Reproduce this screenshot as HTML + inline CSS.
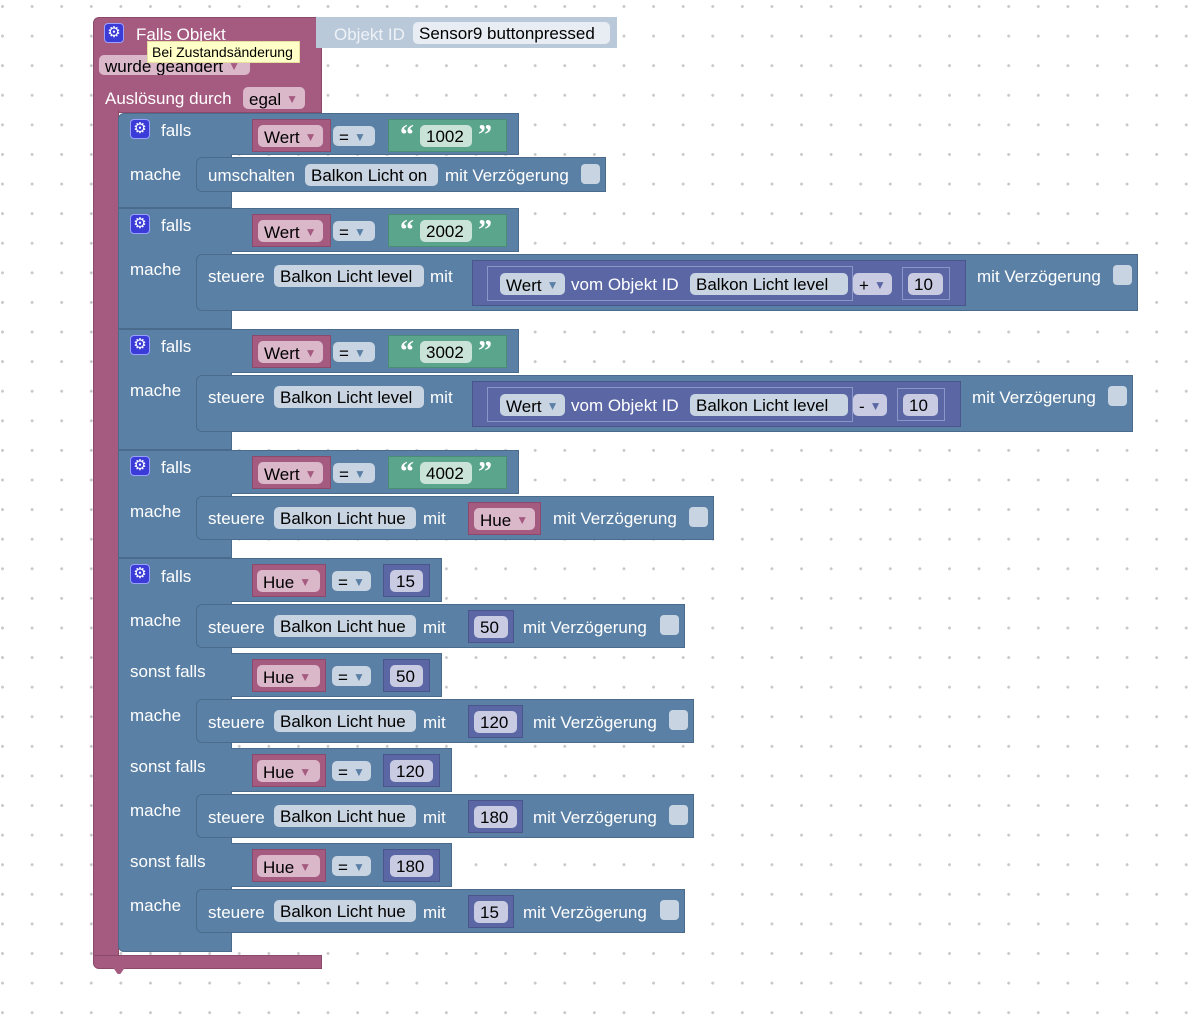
<!DOCTYPE html>
<html><head><meta charset="utf-8"><style>
html,body{margin:0;padding:0}
body{width:1200px;height:1025px;position:relative;overflow:hidden;background-color:#fff;
background-image:radial-gradient(circle at 1.5px 1.5px,#c8c8c8 1.3px,transparent 1.6px);
background-size:29.6px 29.6px;background-position:1px 5px;font-family:"Liberation Sans",sans-serif}
div{position:absolute;box-sizing:border-box}
.pk{background:#a55b80;border:1px solid #8b4a6b}
.bl{background:#5b80a5;border:1px solid #4a6b8c}
.gr{background:#5ba58c;border:1px solid #4a8c75}
.pu{background:#5b67a5;border:1px solid #4a558c}
.pu2{background:#5b67a5;border:1px solid #8c95c8}
.t{color:#fff;font-size:17px;line-height:20px;white-space:nowrap;margin-top:1px}
.f{border-radius:5px;color:#000;font-size:17px;line-height:24px;height:22px;white-space:nowrap;padding-left:6px}
.fb{background:#c8d4e1}.fp{background:#dbb7ca}.fg{background:#c9e3d9}.fu{background:#c9cbe3}
.ar{font-size:12px;color:#5b80a5;vertical-align:2px;margin-left:5px}
.fp .ar{color:#a55b80}
.cb{background:#c8d4e1;border-radius:4px;width:19px;height:20px}
.g{background:#3b3bd8;border:1px solid #9aa0ff;border-radius:4px;width:20px;height:20px;color:#fff;font-size:15px;line-height:18px;text-align:center}
.q{color:#fff;font-size:28px;font-weight:bold;line-height:28px;font-family:"Liberation Serif",serif}
</style></head><body>

<!-- outer pink -->
<div class="pk" style="left:93px;top:17px;width:229px;height:96px;border-radius:6px 6px 0 0"></div>
<div class="pk" style="left:93px;top:110px;width:26px;height:850px;border-top:0;border-bottom:0"></div>
<div class="pk" style="left:93px;top:955px;width:229px;height:14px;border-radius:0 0 0 6px"></div>
<div style="left:112px;top:966px;width:14px;height:8px;background:#a55b80;clip-path:polygon(0 0,100% 0,60% 100%,40% 100%)"></div>

<div style="left:316px;top:17px;width:301px;height:31px;background:#b9c9da"></div>
<div class="t" style="left:334px;top:24px;color:#eef2f7">Objekt ID</div>
<div class="f" style="left:413px;top:22px;width:197px;background:#e8edf3">Sensor9 buttonpressed</div>

<div class="g" style="left:104px;top:23px">⚙</div>
<div class="t" style="left:136px;top:24px">Falls Objekt</div>
<div class="f fp" style="left:99px;top:55px;width:151px;height:20px;line-height:22px;overflow:hidden">wurde geändert<span class="ar">▼</span></div>
<div style="left:147px;top:41px;width:153px;height:22px;background:#ffffc7;border:1px solid #e6e0a0;font-size:14px;line-height:20px;padding-left:4px;color:#000;white-space:nowrap">Bei Zustandsänderung</div>
<div class="t" style="left:105px;top:88px">Auslösung durch</div>
<div class="f fp" style="left:243px;top:87px;width:62px">egal<span class="ar">▼</span></div>

<!-- Block 1 -->
<div class="bl" style="left:118px;top:113px;width:114px;height:95px;border-radius:6px 0 0 0"></div>
<div class="bl" style="left:231px;top:113px;width:288px;height:42px;border-left:0"></div>
<div class="g" style="left:130px;top:119px">⚙</div>
<div class="t" style="left:161px;top:120px">falls</div>
<div class="t" style="left:130px;top:164px">mache</div>
<div class="pk" style="left:252px;top:119px;width:79px;height:33px"></div>
<div class="f fp" style="left:258px;top:125px;width:65px">Wert<span class="ar">▼</span></div>
<div class="f fb" style="left:333px;top:126px;width:42px;height:20px;line-height:22px">=<span class="ar">▼</span></div>
<div class="gr" style="left:388px;top:119px;width:119px;height:33px"></div>
<div class="q" style="left:400px;top:122px">“</div>
<div class="f fg" style="left:420px;top:125px;width:52px">1002</div>
<div class="q" style="left:478px;top:122px">”</div>
<div class="bl" style="left:196px;top:157px;width:410px;height:35px;border-radius:6px 0 0 6px"></div>
<div class="t" style="left:208px;top:165px">umschalten</div>
<div class="f fb" style="left:305px;top:164px;width:133px">Balkon Licht on</div>
<div class="t" style="left:445px;top:165px">mit Verzögerung</div>
<div class="cb" style="left:581px;top:164px"></div>

<!-- Block 2 -->
<div class="bl" style="left:118px;top:208px;width:114px;height:121px"></div>
<div class="bl" style="left:231px;top:208px;width:288px;height:44px;border-left:0"></div>
<div class="g" style="left:130px;top:214px">⚙</div>
<div class="t" style="left:161px;top:215px">falls</div>
<div class="t" style="left:130px;top:259px">mache</div>
<div class="pk" style="left:252px;top:214px;width:79px;height:33px"></div>
<div class="f fp" style="left:258px;top:220px;width:65px">Wert<span class="ar">▼</span></div>
<div class="f fb" style="left:333px;top:221px;width:42px;height:20px;line-height:22px">=<span class="ar">▼</span></div>
<div class="gr" style="left:388px;top:214px;width:119px;height:33px"></div>
<div class="q" style="left:400px;top:217px">“</div>
<div class="f fg" style="left:420px;top:220px;width:52px">2002</div>
<div class="q" style="left:478px;top:217px">”</div>
<div class="bl" style="left:196px;top:254px;width:942px;height:57px;border-radius:6px 0 0 6px"></div>
<div class="t" style="left:208px;top:266px">steuere</div>
<div class="f fb" style="left:274px;top:265px;width:150px">Balkon Licht level</div>
<div class="t" style="left:430px;top:266px">mit</div>
<div class="pu" style="left:472px;top:260px;width:494px;height:46px"></div>
<div class="pu2" style="left:487px;top:266px;width:366px;height:35px"></div>
<div class="f fb" style="left:500px;top:273px;width:65px">Wert<span class="ar">▼</span></div>
<div class="t" style="left:571px;top:274px">vom Objekt ID</div>
<div class="f fb" style="left:690px;top:273px;width:158px">Balkon Licht level</div>
<div class="f fu" style="left:853px;top:273px;width:39px">+<span class="ar" style="color:#5b67a5">▼</span></div>
<div class="pu2" style="left:902px;top:267px;width:48px;height:33px"></div>
<div class="f fu" style="left:908px;top:273px;width:35px">10</div>
<div class="t" style="left:977px;top:266px">mit Verzögerung</div>
<div class="cb" style="left:1113px;top:265px"></div>

<!-- Block 3 -->
<div class="bl" style="left:118px;top:329px;width:114px;height:121px"></div>
<div class="bl" style="left:231px;top:329px;width:288px;height:44px;border-left:0"></div>
<div class="g" style="left:130px;top:335px">⚙</div>
<div class="t" style="left:161px;top:336px">falls</div>
<div class="t" style="left:130px;top:380px">mache</div>
<div class="pk" style="left:252px;top:335px;width:79px;height:33px"></div>
<div class="f fp" style="left:258px;top:341px;width:65px">Wert<span class="ar">▼</span></div>
<div class="f fb" style="left:333px;top:342px;width:42px;height:20px;line-height:22px">=<span class="ar">▼</span></div>
<div class="gr" style="left:388px;top:335px;width:119px;height:33px"></div>
<div class="q" style="left:400px;top:338px">“</div>
<div class="f fg" style="left:420px;top:341px;width:52px">3002</div>
<div class="q" style="left:478px;top:338px">”</div>
<div class="bl" style="left:196px;top:375px;width:937px;height:57px;border-radius:6px 0 0 6px"></div>
<div class="t" style="left:208px;top:387px">steuere</div>
<div class="f fb" style="left:274px;top:386px;width:150px">Balkon Licht level</div>
<div class="t" style="left:430px;top:387px">mit</div>
<div class="pu" style="left:472px;top:381px;width:489px;height:46px"></div>
<div class="pu2" style="left:487px;top:387px;width:366px;height:35px"></div>
<div class="f fb" style="left:500px;top:394px;width:65px">Wert<span class="ar">▼</span></div>
<div class="t" style="left:571px;top:395px">vom Objekt ID</div>
<div class="f fb" style="left:690px;top:394px;width:158px">Balkon Licht level</div>
<div class="f fu" style="left:853px;top:394px;width:34px">-<span class="ar" style="color:#5b67a5">▼</span></div>
<div class="pu2" style="left:897px;top:388px;width:48px;height:33px"></div>
<div class="f fu" style="left:903px;top:394px;width:35px">10</div>
<div class="t" style="left:972px;top:387px">mit Verzögerung</div>
<div class="cb" style="left:1108px;top:386px"></div>

<!-- Block 4 -->
<div class="bl" style="left:118px;top:450px;width:114px;height:108px"></div>
<div class="bl" style="left:231px;top:450px;width:288px;height:44px;border-left:0"></div>
<div class="g" style="left:130px;top:456px">⚙</div>
<div class="t" style="left:161px;top:457px">falls</div>
<div class="t" style="left:130px;top:501px">mache</div>
<div class="pk" style="left:252px;top:456px;width:79px;height:33px"></div>
<div class="f fp" style="left:258px;top:462px;width:65px">Wert<span class="ar">▼</span></div>
<div class="f fb" style="left:333px;top:463px;width:42px;height:20px;line-height:22px">=<span class="ar">▼</span></div>
<div class="gr" style="left:388px;top:456px;width:119px;height:33px"></div>
<div class="q" style="left:400px;top:459px">“</div>
<div class="f fg" style="left:420px;top:462px;width:52px">4002</div>
<div class="q" style="left:478px;top:459px">”</div>
<div class="bl" style="left:196px;top:496px;width:518px;height:44px;border-radius:6px 0 0 6px"></div>
<div class="t" style="left:208px;top:508px">steuere</div>
<div class="f fb" style="left:274px;top:507px;width:142px">Balkon Licht hue</div>
<div class="t" style="left:423px;top:508px">mit</div>
<div class="pk" style="left:468px;top:502px;width:73px;height:33px"></div>
<div class="f fp" style="left:474px;top:508px;width:61px">Hue<span class="ar">▼</span></div>
<div class="t" style="left:553px;top:508px">mit Verzögerung</div>
<div class="cb" style="left:689px;top:507px"></div>

<!-- Block 5 -->
<div class="bl" style="left:118px;top:558px;width:114px;height:394px;border-radius:0 0 0 6px"></div>
<div class="g" style="left:130px;top:564px">⚙</div>
<div class="t" style="left:161px;top:566px">falls</div>
<div class="t" style="left:130px;top:610px">mache</div>
<div class="t" style="left:130px;top:661px">sonst falls</div>
<div class="t" style="left:130px;top:705px">mache</div>
<div class="t" style="left:130px;top:756px">sonst falls</div>
<div class="t" style="left:130px;top:800px">mache</div>
<div class="t" style="left:130px;top:851px">sonst falls</div>
<div class="t" style="left:130px;top:895px">mache</div>

<!-- cond rows -->
<div class="bl" style="left:231px;top:558px;width:211px;height:44px;border-left:0"></div>
<div class="pk" style="left:252px;top:564px;width:74px;height:33px"></div>
<div class="f fp" style="left:257px;top:570px;width:63px">Hue<span class="ar">▼</span></div>
<div class="f fb" style="left:332px;top:571px;width:39px;height:20px;line-height:22px">=<span class="ar">▼</span></div>
<div class="pu" style="left:383px;top:564px;width:47px;height:33px"></div>
<div class="f fu" style="left:390px;top:570px;width:33px">15</div>

<div class="bl" style="left:231px;top:653px;width:211px;height:44px;border-left:0"></div>
<div class="pk" style="left:252px;top:659px;width:74px;height:33px"></div>
<div class="f fp" style="left:257px;top:665px;width:63px">Hue<span class="ar">▼</span></div>
<div class="f fb" style="left:332px;top:666px;width:39px;height:20px;line-height:22px">=<span class="ar">▼</span></div>
<div class="pu" style="left:383px;top:659px;width:47px;height:33px"></div>
<div class="f fu" style="left:390px;top:665px;width:33px">50</div>

<div class="bl" style="left:231px;top:748px;width:221px;height:44px;border-left:0"></div>
<div class="pk" style="left:252px;top:754px;width:74px;height:33px"></div>
<div class="f fp" style="left:257px;top:760px;width:63px">Hue<span class="ar">▼</span></div>
<div class="f fb" style="left:332px;top:761px;width:39px;height:20px;line-height:22px">=<span class="ar">▼</span></div>
<div class="pu" style="left:383px;top:754px;width:57px;height:33px"></div>
<div class="f fu" style="left:390px;top:760px;width:43px">120</div>

<div class="bl" style="left:231px;top:843px;width:221px;height:44px;border-left:0"></div>
<div class="pk" style="left:252px;top:849px;width:74px;height:33px"></div>
<div class="f fp" style="left:257px;top:855px;width:63px">Hue<span class="ar">▼</span></div>
<div class="f fb" style="left:332px;top:856px;width:39px;height:20px;line-height:22px">=<span class="ar">▼</span></div>
<div class="pu" style="left:383px;top:849px;width:57px;height:33px"></div>
<div class="f fu" style="left:390px;top:855px;width:43px">180</div>

<!-- statements -->
<div class="bl" style="left:196px;top:604px;width:489px;height:44px;border-radius:6px 0 0 6px"></div>
<div class="t" style="left:208px;top:617px">steuere</div>
<div class="f fb" style="left:274px;top:615px;width:142px">Balkon Licht hue</div>
<div class="t" style="left:423px;top:617px">mit</div>
<div class="pu" style="left:468px;top:610px;width:46px;height:33px"></div>
<div class="f fu" style="left:474px;top:616px;width:34px">50</div>
<div class="t" style="left:523px;top:617px">mit Verzögerung</div>
<div class="cb" style="left:660px;top:615px"></div>

<div class="bl" style="left:196px;top:699px;width:498px;height:44px;border-radius:6px 0 0 6px"></div>
<div class="t" style="left:208px;top:712px">steuere</div>
<div class="f fb" style="left:274px;top:710px;width:142px">Balkon Licht hue</div>
<div class="t" style="left:423px;top:712px">mit</div>
<div class="pu" style="left:468px;top:705px;width:55px;height:33px"></div>
<div class="f fu" style="left:474px;top:711px;width:43px">120</div>
<div class="t" style="left:533px;top:712px">mit Verzögerung</div>
<div class="cb" style="left:669px;top:710px"></div>

<div class="bl" style="left:196px;top:794px;width:498px;height:44px;border-radius:6px 0 0 6px"></div>
<div class="t" style="left:208px;top:807px">steuere</div>
<div class="f fb" style="left:274px;top:805px;width:142px">Balkon Licht hue</div>
<div class="t" style="left:423px;top:807px">mit</div>
<div class="pu" style="left:468px;top:800px;width:55px;height:33px"></div>
<div class="f fu" style="left:474px;top:806px;width:43px">180</div>
<div class="t" style="left:533px;top:807px">mit Verzögerung</div>
<div class="cb" style="left:669px;top:805px"></div>

<div class="bl" style="left:196px;top:889px;width:489px;height:44px;border-radius:6px 0 0 6px"></div>
<div class="t" style="left:208px;top:902px">steuere</div>
<div class="f fb" style="left:274px;top:900px;width:142px">Balkon Licht hue</div>
<div class="t" style="left:423px;top:902px">mit</div>
<div class="pu" style="left:468px;top:895px;width:46px;height:33px"></div>
<div class="f fu" style="left:474px;top:901px;width:34px">15</div>
<div class="t" style="left:523px;top:902px">mit Verzögerung</div>
<div class="cb" style="left:660px;top:900px"></div>

</body></html>
